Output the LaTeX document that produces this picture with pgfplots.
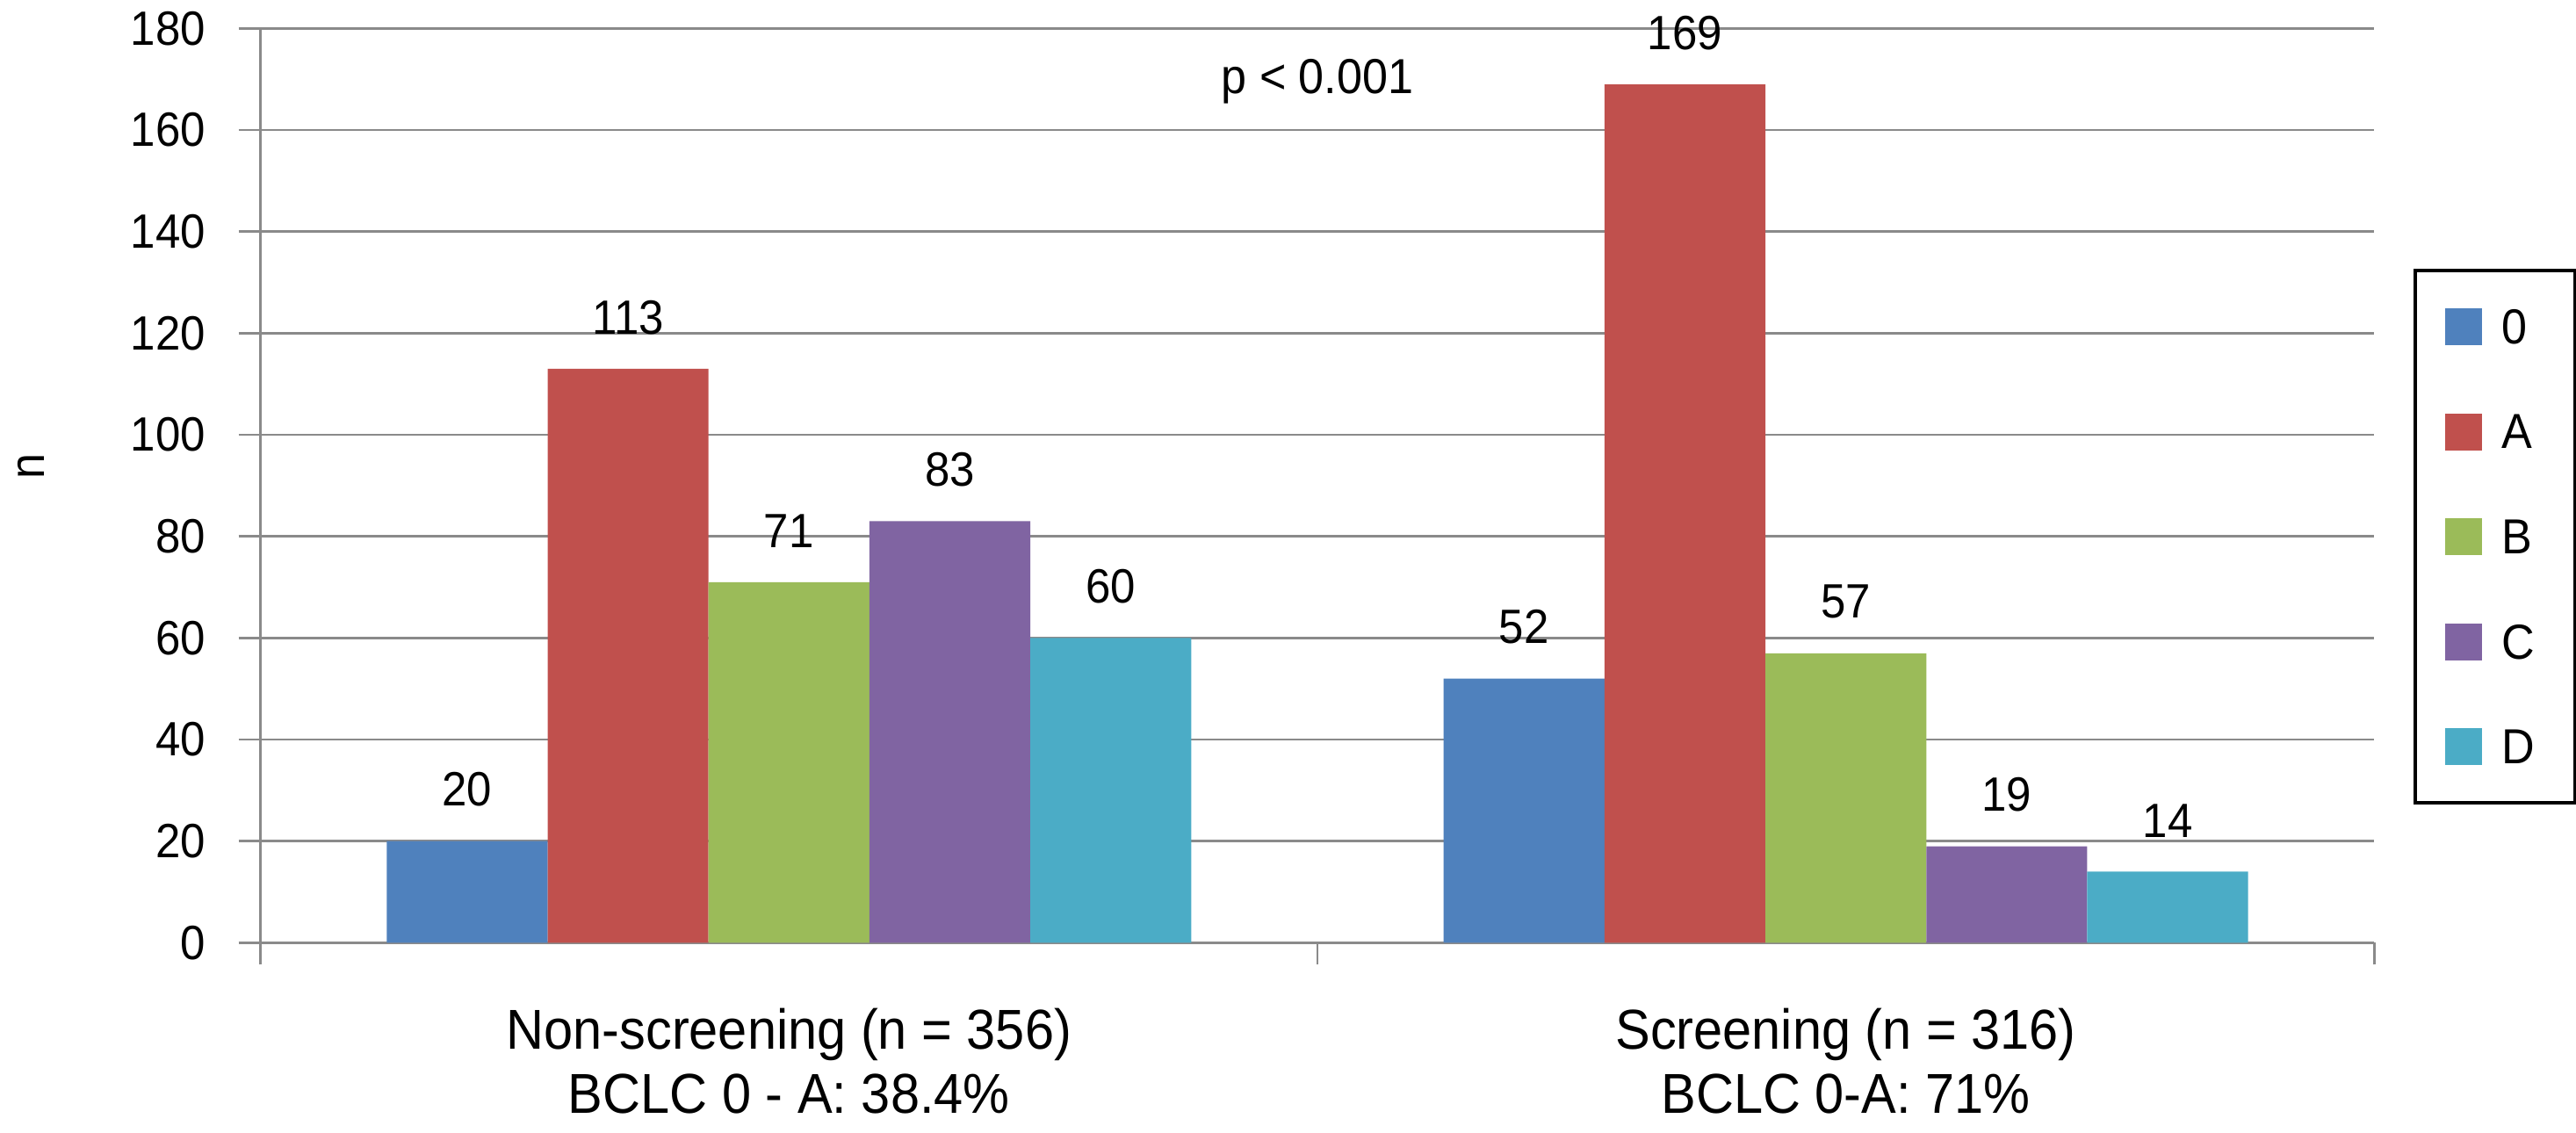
\documentclass[border=0pt]{standalone}
\usepackage{pgfplots}
\pgfplotsset{compat=1.18}
\usepackage{fontspec}
\setmainfont{Liberation Sans}[FakeStretch=0.93]
\definecolor{c0}{HTML}{4F81BD}
\definecolor{cA}{HTML}{C0504D}
\definecolor{cB}{HTML}{9BBB59}
\definecolor{cC}{HTML}{8064A2}
\definecolor{cD}{HTML}{4BACC6}
\definecolor{gridc}{HTML}{8A8A8A}
\pgfplotsset{/pgfplots/ybar legend/.style={/pgfplots/legend image code/.code={\fill[##1,draw=none] (0pt,-5.25pt) rectangle (10.5pt,5.25pt);}}}
\begin{document}
\begin{tikzpicture}
\useasboundingbox (0,0) rectangle (733.25pt,322.25pt);
\begin{axis}[
  at={(74.17pt,53.9pt)}, anchor=south west,
  scale only axis, width=601.65pt, height=260.25pt,
  xmin=0, xmax=2, ymin=0, ymax=180,
  ybar=0pt, bar width=45.8pt,
  font=\fontsize{13.7}{15}\selectfont,
  /pgf/number format/assume math mode=true,
  axis x line*=bottom, axis y line*=left,
  axis line style={gridc, line width=0.65pt},
  ymajorgrids, grid style={gridc, line width=0.65pt},
  ytick={0,20,...,180},
  yticklabel style={xshift=-5.9pt},
  xtick={0,1,2}, xticklabels={},
  tick align=outside,
  major tick length=6.25pt,
  tick style={gridc, line width=0.65pt},
  extra x ticks={0.5,1.5},
  extra x tick labels={{Non-screening (n = 356)\\BCLC 0 - A: 38.4\%},{Screening (n = 316)\\BCLC 0-A: 71\%}},
  extra x tick style={major tick length=0pt, xticklabel style={align=center, yshift=-15.1pt, font=\fontsize{16}{18.3}\selectfont}},
  ylabel={n},
  ylabel style={at={(axis description cs:-0.1086,0.521)}, anchor=center, font=\fontsize{14}{16}\selectfont},
  nodes near coords,
  every node near coord/.append style={font=\fontsize{13.7}{15}\selectfont, yshift=6.3pt},
  legend entries={0,A,B,C,D},
  legend style={at={(1.01858,0.7372)}, anchor=north west, draw=black, line width=1pt,
    font=\fontsize{14}{16}\selectfont, row sep=19.4pt, inner xsep=8.4pt, inner ysep=10.75pt,
    nodes={inner sep=0pt, text depth=0pt, text width=12.6pt},
    column sep=5.6pt},
  legend cell align=left,
]
\addplot[fill=c0, draw=none] coordinates {(0.5,20) (1.5,52)};
\addplot[fill=cA, draw=none] coordinates {(0.5,113) (1.5,169)};
\addplot[fill=cB, draw=none] coordinates {(0.5,71) (1.5,57)};
\addplot[fill=cC, draw=none] coordinates {(0.5,83) (1.5,19)};
\addplot[fill=cD, draw=none] coordinates {(0.5,60) (1.5,14)};
\node[anchor=base, font=\fontsize{14}{16}\selectfont] at (axis cs:1,167.2) {p < 0.001};
\end{axis}
\end{tikzpicture}
\end{document}
